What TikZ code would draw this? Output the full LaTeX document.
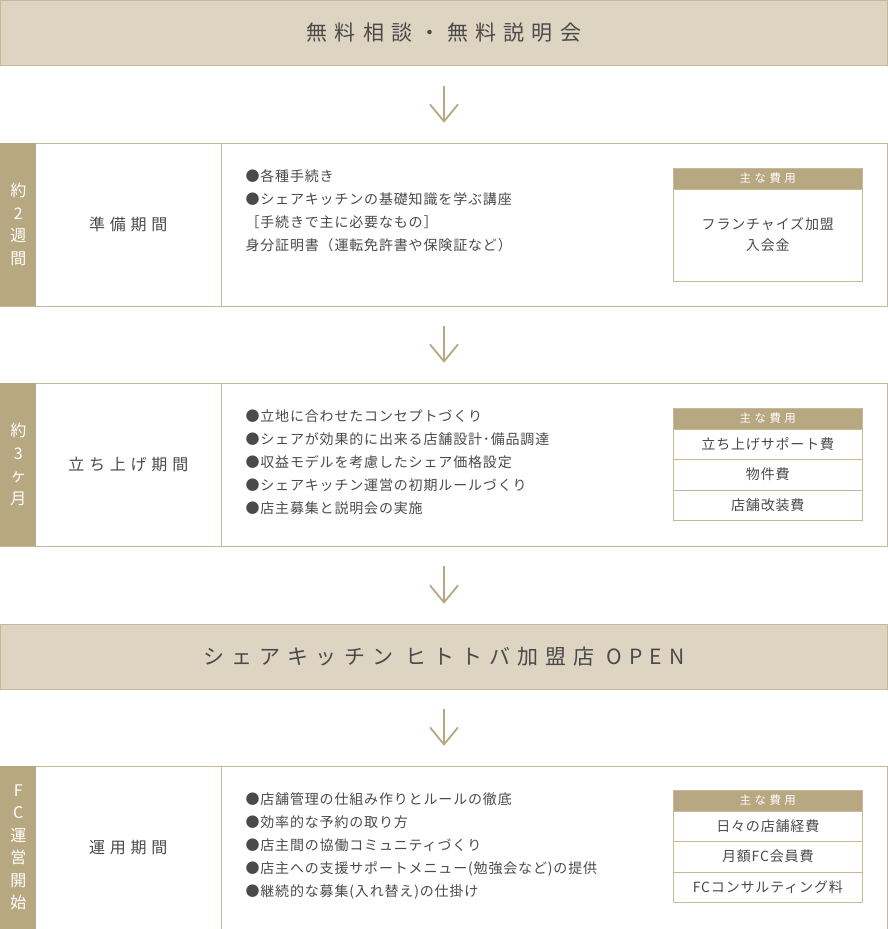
\documentclass[tikz,border=0pt]{standalone}
\usepackage{fontspec}
\setmainfont{Noto Sans CJK JP}
\newfontfamily\titlefont[LetterSpace=34]{Noto Sans CJK JP}
\newfontfamily\periodfont[LetterSpace=30]{Noto Sans CJK JP}
\newfontfamily\itemfont[LetterSpace=6]{Noto Sans CJK JP}
\newfontfamily\costfont[LetterSpace=6]{Noto Sans CJK JP}
\usetikzlibrary{arrows.meta,positioning}
\definecolor{light-beige}{HTML}{DDD5C2}
\definecolor{dark-beige}{HTML}{B8A881}
\definecolor{line-beige}{HTML}{C7B997}
\definecolor{text-gray}{HTML}{4A4A4A}

\begin{document}
\begin{tikzpicture}[x=1pt,y=-1pt,
	banner/.style={draw=line-beige,fill=light-beige,minimum width=887pt,minimum height=65pt,inner sep=0pt,text=text-gray,font=\fontsize{21}{24}\selectfont\titlefont},
	stagebox/.style={draw=line-beige,minimum width=887pt,minimum height=163pt,inner sep=0pt},
	term/.style={text=white,align=center,inner sep=0pt,font=\fontsize{16}{22.5}\selectfont},
	period/.style={text=text-gray,inner sep=0pt,font=\fontsize{16}{18}\selectfont\periodfont},
	items/.style={text=text-gray,align=left,anchor=north west,inner sep=0pt,font=\fontsize{14}{23}\selectfont\itemfont},
	costhead/.style={fill=dark-beige,draw=line-beige,text=white,minimum width=189pt,minimum height=21pt,inner sep=0pt,outer sep=0pt,anchor=north west,font=\fontsize{11.5}{13}\selectfont\periodfont},
	costrow/.style={draw=line-beige,text=text-gray,minimum width=189pt,minimum height=30.5pt,inner sep=0pt,outer sep=0pt,align=center,font=\fontsize{14}{21}\selectfont\costfont},
	flow/.style={draw=dark-beige,line width=1.8pt,shorten <=20pt,shorten >=20pt,-{Straight Barb[length=17pt,width=28pt]}}]

	\useasboundingbox (0,0) rectangle (888,929);

	\node[banner] (consult) at (444,33) {無料相談・無料説明会};
	\node[stagebox] (prep) at (444,224.5) {};
	\node[stagebox] (launch) at (444,464.5) {};
	\node[banner] (open) at (444,656.5) {シェアキッチン ヒトトバ加盟店 OPEN};
	\node[stagebox] (run) at (444,847.5) {};

	\foreach \s in {prep,launch,run} {
		\fill[dark-beige] (\s.north west) rectangle ([xshift=36pt]\s.south west);
		\draw[line-beige] ([xshift=221pt]\s.north west) -- ([xshift=221pt]\s.south west);
	}

	\draw[flow] (consult) -- (prep);
	\draw[flow] (prep) -- (launch);
	\draw[flow] (launch) -- (open);
	\draw[flow] (open) -- (run);

	\node[term] (prep-term) at ([xshift=18pt]prep.west) {約\\2\\週\\間};
	\node[term] (launch-term) at ([xshift=18pt]launch.west) {約\\3\\ヶ\\月};
	\node[term] (run-term) at ([xshift=18pt]run.west) {F\\C\\運\\営\\開\\始};

	\node[period] (prep-period) at ([xshift=128pt]prep.west) {準備期間};
	\node[period] (launch-period) at ([xshift=128pt]launch.west) {立ち上げ期間};
	\node[period] (run-period) at ([xshift=128pt]run.west) {運用期間};

	\node[items] (prep-items) at ([xshift=245pt,yshift=-26.5pt]prep.north west) {●各種手続き\\●シェアキッチンの基礎知識を学ぶ講座\\［手続きで主に必要なもの］\\身分証明書（運転免許書や保険証など）};
	\node[items] (launch-items) at ([xshift=245pt,yshift=-26.5pt]launch.north west) {●立地に合わせたコンセプトづくり\\●シェアが効果的に出来る店舗設計･備品調達\\●収益モデルを考慮したシェア価格設定\\●シェアキッチン運営の初期ルールづくり\\●店主募集と説明会の実施};
	\node[items] (run-items) at ([xshift=245pt,yshift=-26.5pt]run.north west) {●店舗管理の仕組み作りとルールの徹底\\●効率的な予約の取り方\\●店主間の協働コミュニティづくり\\●店主への支援サポートメニュー(勉強会など)の提供\\●継続的な募集(入れ替え)の仕掛け};

	\node[costhead] (prep-head) at ([xshift=673pt,yshift=-25pt]prep.north west) {主な費用};
	\node[costrow,minimum height=92pt,below=0pt of prep-head] (prep-fee) {フランチャイズ加盟\\入会金};

	\node[costhead] (launch-head) at ([xshift=673pt,yshift=-25pt]launch.north west) {主な費用};
	\node[costrow,below=0pt of launch-head] (launch-fee1) {立ち上げサポート費};
	\node[costrow,below=0pt of launch-fee1] (launch-fee2) {物件費};
	\node[costrow,below=0pt of launch-fee2] (launch-fee3) {店舗改装費};

	\node[costhead] (run-head) at ([xshift=673pt,yshift=-24pt]run.north west) {主な費用};
	\node[costrow,below=0pt of run-head] (run-fee1) {日々の店舗経費};
	\node[costrow,below=0pt of run-fee1] (run-fee2) {月額FC会員費};
	\node[costrow,below=0pt of run-fee2] (run-fee3) {FCコンサルティング料};
\end{tikzpicture}
\end{document}
